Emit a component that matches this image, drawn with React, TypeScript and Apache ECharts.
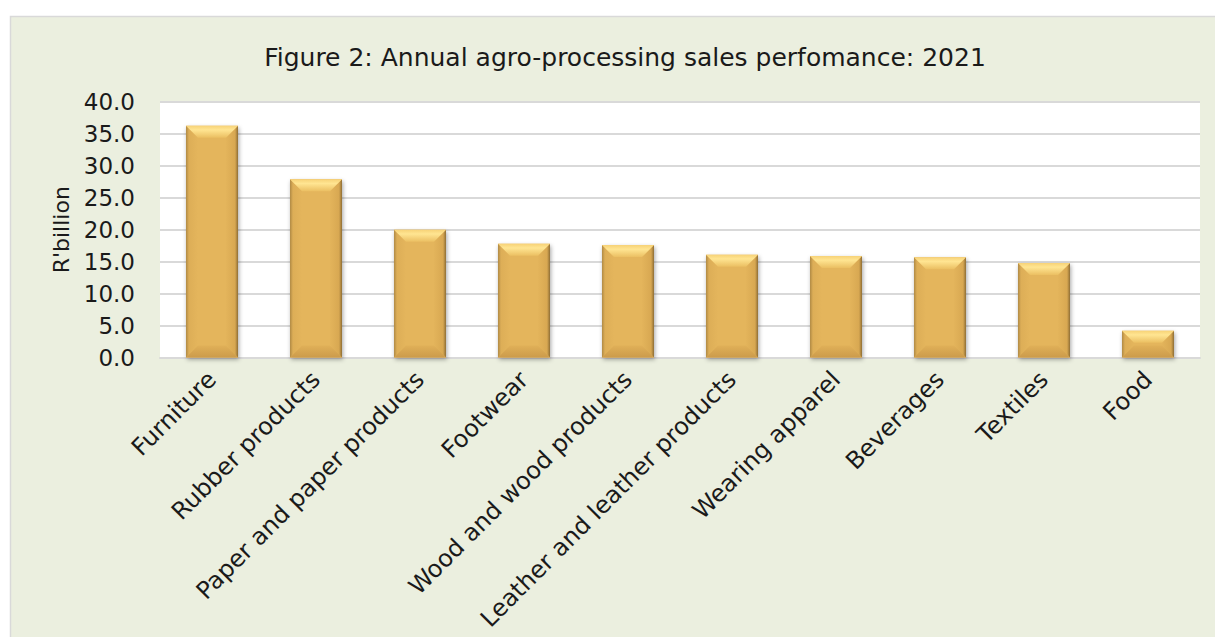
import React, { useEffect, useRef } from "react";
import * as echarts from "echarts";

const categories = [
  "Furniture",
  "Rubber products",
  "Paper and paper products",
  "Footwear",
  "Wood and wood products",
  "Leather and leather products",
  "Wearing apparel",
  "Beverages",
  "Textiles",
  "Food",
];
const sales = [36.3, 27.9, 20.0, 17.8, 17.6, 16.1, 15.9, 15.7, 14.8, 4.2];
const yTicks = { min: 0, max: 40, interval: 5 };
const titleText = "Figure 2: Annual agro-processing sales perfomance: 2021";
const yAxisTitle = "R'billion";

const FONT = "DejaVu Sans";

export default function App() {
  const ref = useRef<HTMLDivElement>(null);
  useEffect(() => {
    if (!ref.current) return;
    const chart = echarts.init(ref.current, undefined, { renderer: "svg" });
    const renderItem = (params: any, api: any) => {
      const idx = api.value(0);
      const val = api.value(1);
      const top = api.coord([idx, val]);
      const base = api.coord([idx, 0]);
      const w = api.size([1, 0])[0] * 0.5;
      const x0 = top[0] - w / 2;
      const x1 = top[0] + w / 2;
      const y0 = top[1];
      const y1 = base[1];
      const h = y1 - y0;
      const b = Math.min(12, h / 2);
      return {
        type: "group",
        children: [
          {
            type: "rect",
            shape: { x: x0, y: y0, width: w, height: h },
            style: {
              fill: "#E4B55C",
              shadowBlur: 4,
              shadowColor: "rgba(0,0,0,0.35)",
              shadowOffsetX: 1,
              shadowOffsetY: 2,
            },
          },
          {
            type: "polygon",
            shape: { points: [[x0, y0], [x0 + b, y0 + b], [x0 + b, y1 - b], [x0, y1]] },
            style: {
              fill: new echarts.graphic.LinearGradient(0, 0, 1, 0, [
                { offset: 0, color: "#B08A45" },
                { offset: 0.25, color: "#DDAE57" },
                { offset: 1, color: "#E4B55C" },
              ]),
            },
          },
          {
            type: "polygon",
            shape: { points: [[x1, y0], [x1 - b, y0 + b], [x1 - b, y1 - b], [x1, y1]] },
            style: {
              fill: new echarts.graphic.LinearGradient(0, 0, 1, 0, [
                { offset: 0, color: "#E3B45B" },
                { offset: 0.75, color: "#D8A852" },
                { offset: 1, color: "#8F6E35" },
              ]),
            },
          },
          {
            type: "polygon",
            shape: { points: [[x0, y0], [x1, y0], [x1 - b, y0 + b], [x0 + b, y0 + b]] },
            style: {
              fill: new echarts.graphic.LinearGradient(0, 0, 0, 1, [
                { offset: 0, color: "#F7D277" },
                { offset: 0.35, color: "#FFE592" },
                { offset: 1, color: "#EBBF62" },
              ]),
            },
          },
          {
            type: "polygon",
            shape: { points: [[x0, y1], [x1, y1], [x1 - b, y1 - b], [x0 + b, y1 - b]] },
            style: {
              fill: new echarts.graphic.LinearGradient(0, 0, 0, 1, [
                { offset: 0, color: "#E0B058" },
                { offset: 1, color: "#CC9B4B" },
              ]),
            },
          },
        ],
      };
    };
    chart.setOption({
      animation: false,
      backgroundColor: "#ffffff",
      graphic: [
        {
          type: "rect",
          z: -10,
          shape: { x: 10.5, y: 16.5, width: 1215, height: 637 },
          style: { fill: "#EBEFDF", stroke: "#D9D9D9", lineWidth: 1.5 },
          silent: true,
        },
      ],
      title: {
        text: titleText,
        left: 620,
        textAlign: "center",
        top: 40,
        textStyle: { fontFamily: FONT, fontSize: 25, fontWeight: "normal", color: "#1a1a1a" },
      },
      grid: {
        left: 160,
        right: 15,
        top: 102,
        bottom: 279.5,
        show: true,
        backgroundColor: "#ffffff",
        borderWidth: 0,
      },
      xAxis: {
        type: "category",
        data: categories,
        axisTick: { show: false },
        axisLine: { show: true, lineStyle: { color: "#D9D9D9", width: 2 } },
        axisLabel: {
          rotate: 45,
          interval: 0,
          margin: 18,
          fontFamily: FONT,
          fontSize: 24,
          color: "#1a1a1a",
        },
      },
      yAxis: {
        type: "value",
        min: yTicks.min,
        max: yTicks.max,
        interval: yTicks.interval,
        name: yAxisTitle,
        nameLocation: "middle",
        nameGap: 82,
        nameTextStyle: { fontFamily: FONT, fontSize: 22, color: "#1a1a1a" },
        axisLine: { show: false },
        axisTick: { show: false },
        splitLine: { lineStyle: { color: "#D9D9D9", width: 2 } },
        axisLabel: {
          margin: 25,
          fontFamily: FONT,
          fontSize: 23,
          color: "#1a1a1a",
          formatter: (v: number) => v.toFixed(1),
        },
      },
      series: [
        {
          type: "custom",
          renderItem,
          data: sales.map((v, i) => [i, v]),
          encode: { x: 0, y: 1 },
        },
      ],
    });
    return () => chart.dispose();
  }, []);
  return (
    <div
      ref={ref}
      style={{ position: "absolute", left: 0, top: 0, width: 1215, height: 637 }}
    />
  );
}
